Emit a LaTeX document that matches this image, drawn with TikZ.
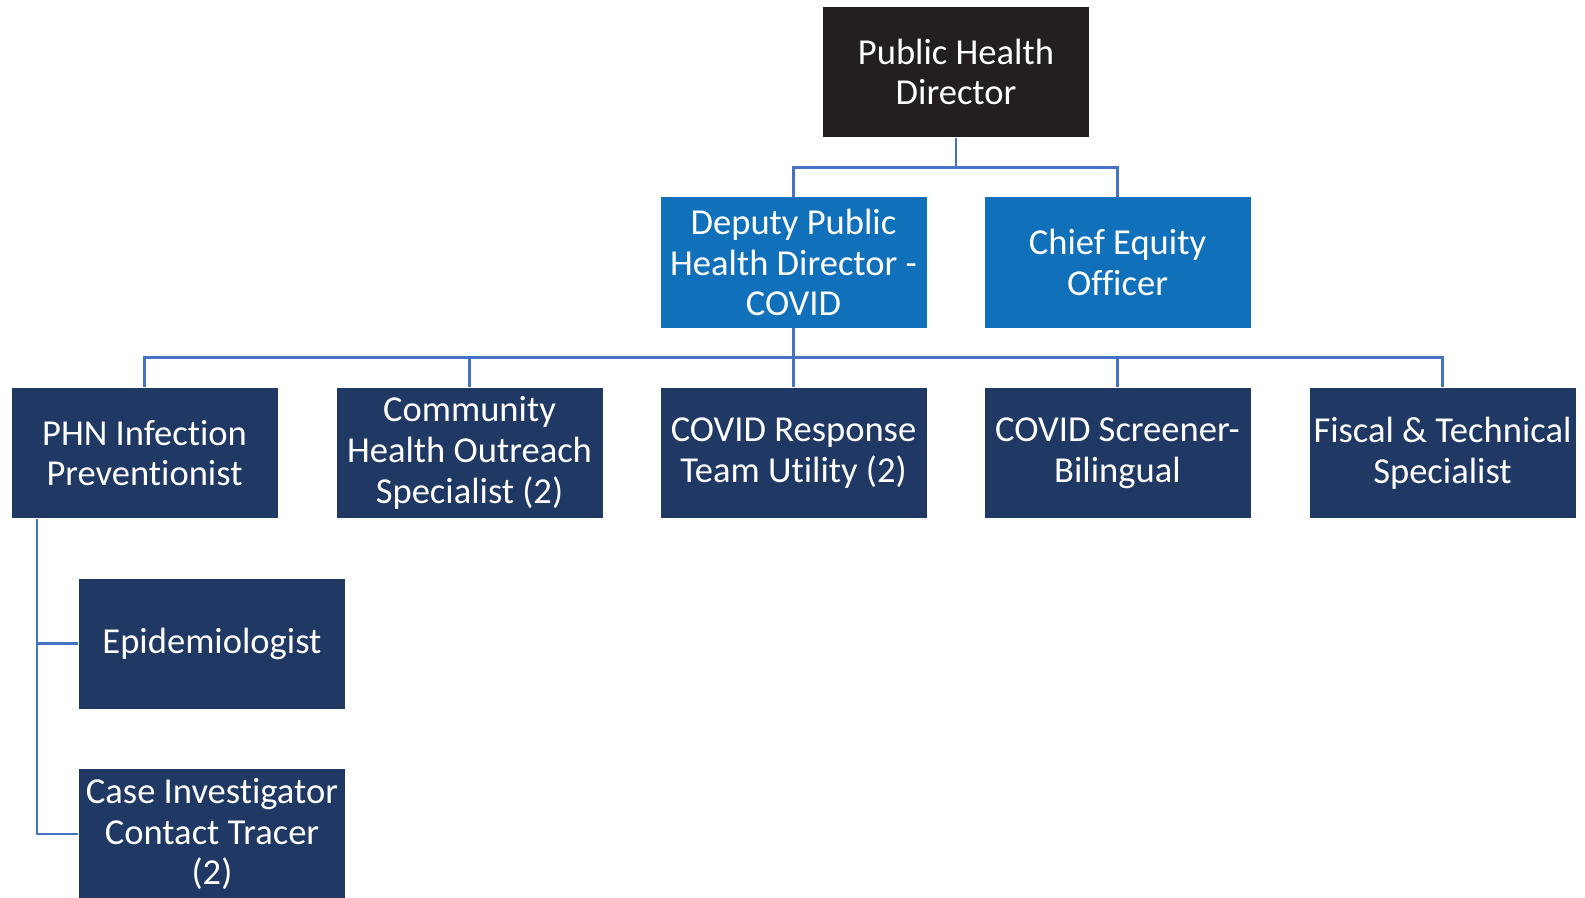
\documentclass[tikz,border=0pt]{standalone}
\usepackage{fontspec}
\setmainfont[Ligatures=NoCommon]{Carlito}
\usepackage{tikz}

\definecolor{navy}{HTML}{1F3864}
\definecolor{midblue}{HTML}{1170BA}
\definecolor{topblack}{HTML}{231F20}
\definecolor{linkblue}{HTML}{4472C4}

\begin{document}
\begin{tikzpicture}[
  box/.style={minimum width=2.66cm, minimum height=1.30cm,
    align=center, inner sep=0pt, text=white,
    font=\fontsize{10.4}{11.6}\selectfont},
  headbox/.style={box, fill=topblack},
  deputybox/.style={box, fill=midblue},
  staffbox/.style={box, fill=navy},
  link/.style={draw=linkblue, line width=0.8pt},
]
\useasboundingbox (0,0) rectangle (15.85,8.97);

% director and deputies
\node [headbox] (dir) at (9.56,8.25) {Public Health\\Director};
\node [deputybox] (dep) at (7.935,6.345) {Deputy Public\\Health Director -\\COVID};
\node [deputybox] (cheq) at (11.175,6.345) {Chief Equity\\Officer};

% staff row
\node [staffbox] (phn) at (1.445,4.44) {PHN Infection\\Preventionist};
\node [staffbox] (chos) at (4.695,4.44) {Community\\Health Outreach\\Specialist (2)};
\node [staffbox] (crtu) at (7.935,4.44) {COVID Response\\Team Utility (2)};
\node [staffbox] (scr) at (11.175,4.44) {COVID Screener-\\Bilingual};
\node [staffbox] (fts) at (14.425,4.44) {Fiscal \& Technical\\Specialist};

% under PHN
\node [staffbox] (epi) at (2.12,2.535) {Epidemiologist};
\node [staffbox] (case) at (2.12,0.63) {Case Investigator\\Contact Tracer\\(2)};

% connectors
\draw [link] (dir.south) -- ++(0,-0.30) -| (dep.north);
\draw [link] (dir.south) -- ++(0,-0.30) -| (cheq.north);
\foreach \n in {phn,chos,crtu,scr,fts}
  \draw [link] (dep.south) -- ++(0,-0.29) -| (\n.north);

\coordinate (spine) at (0.37,3.78);
\draw [link] (spine) |- (epi.west);
\draw [link] (spine) |- (case.west);
\end{tikzpicture}
\end{document}
